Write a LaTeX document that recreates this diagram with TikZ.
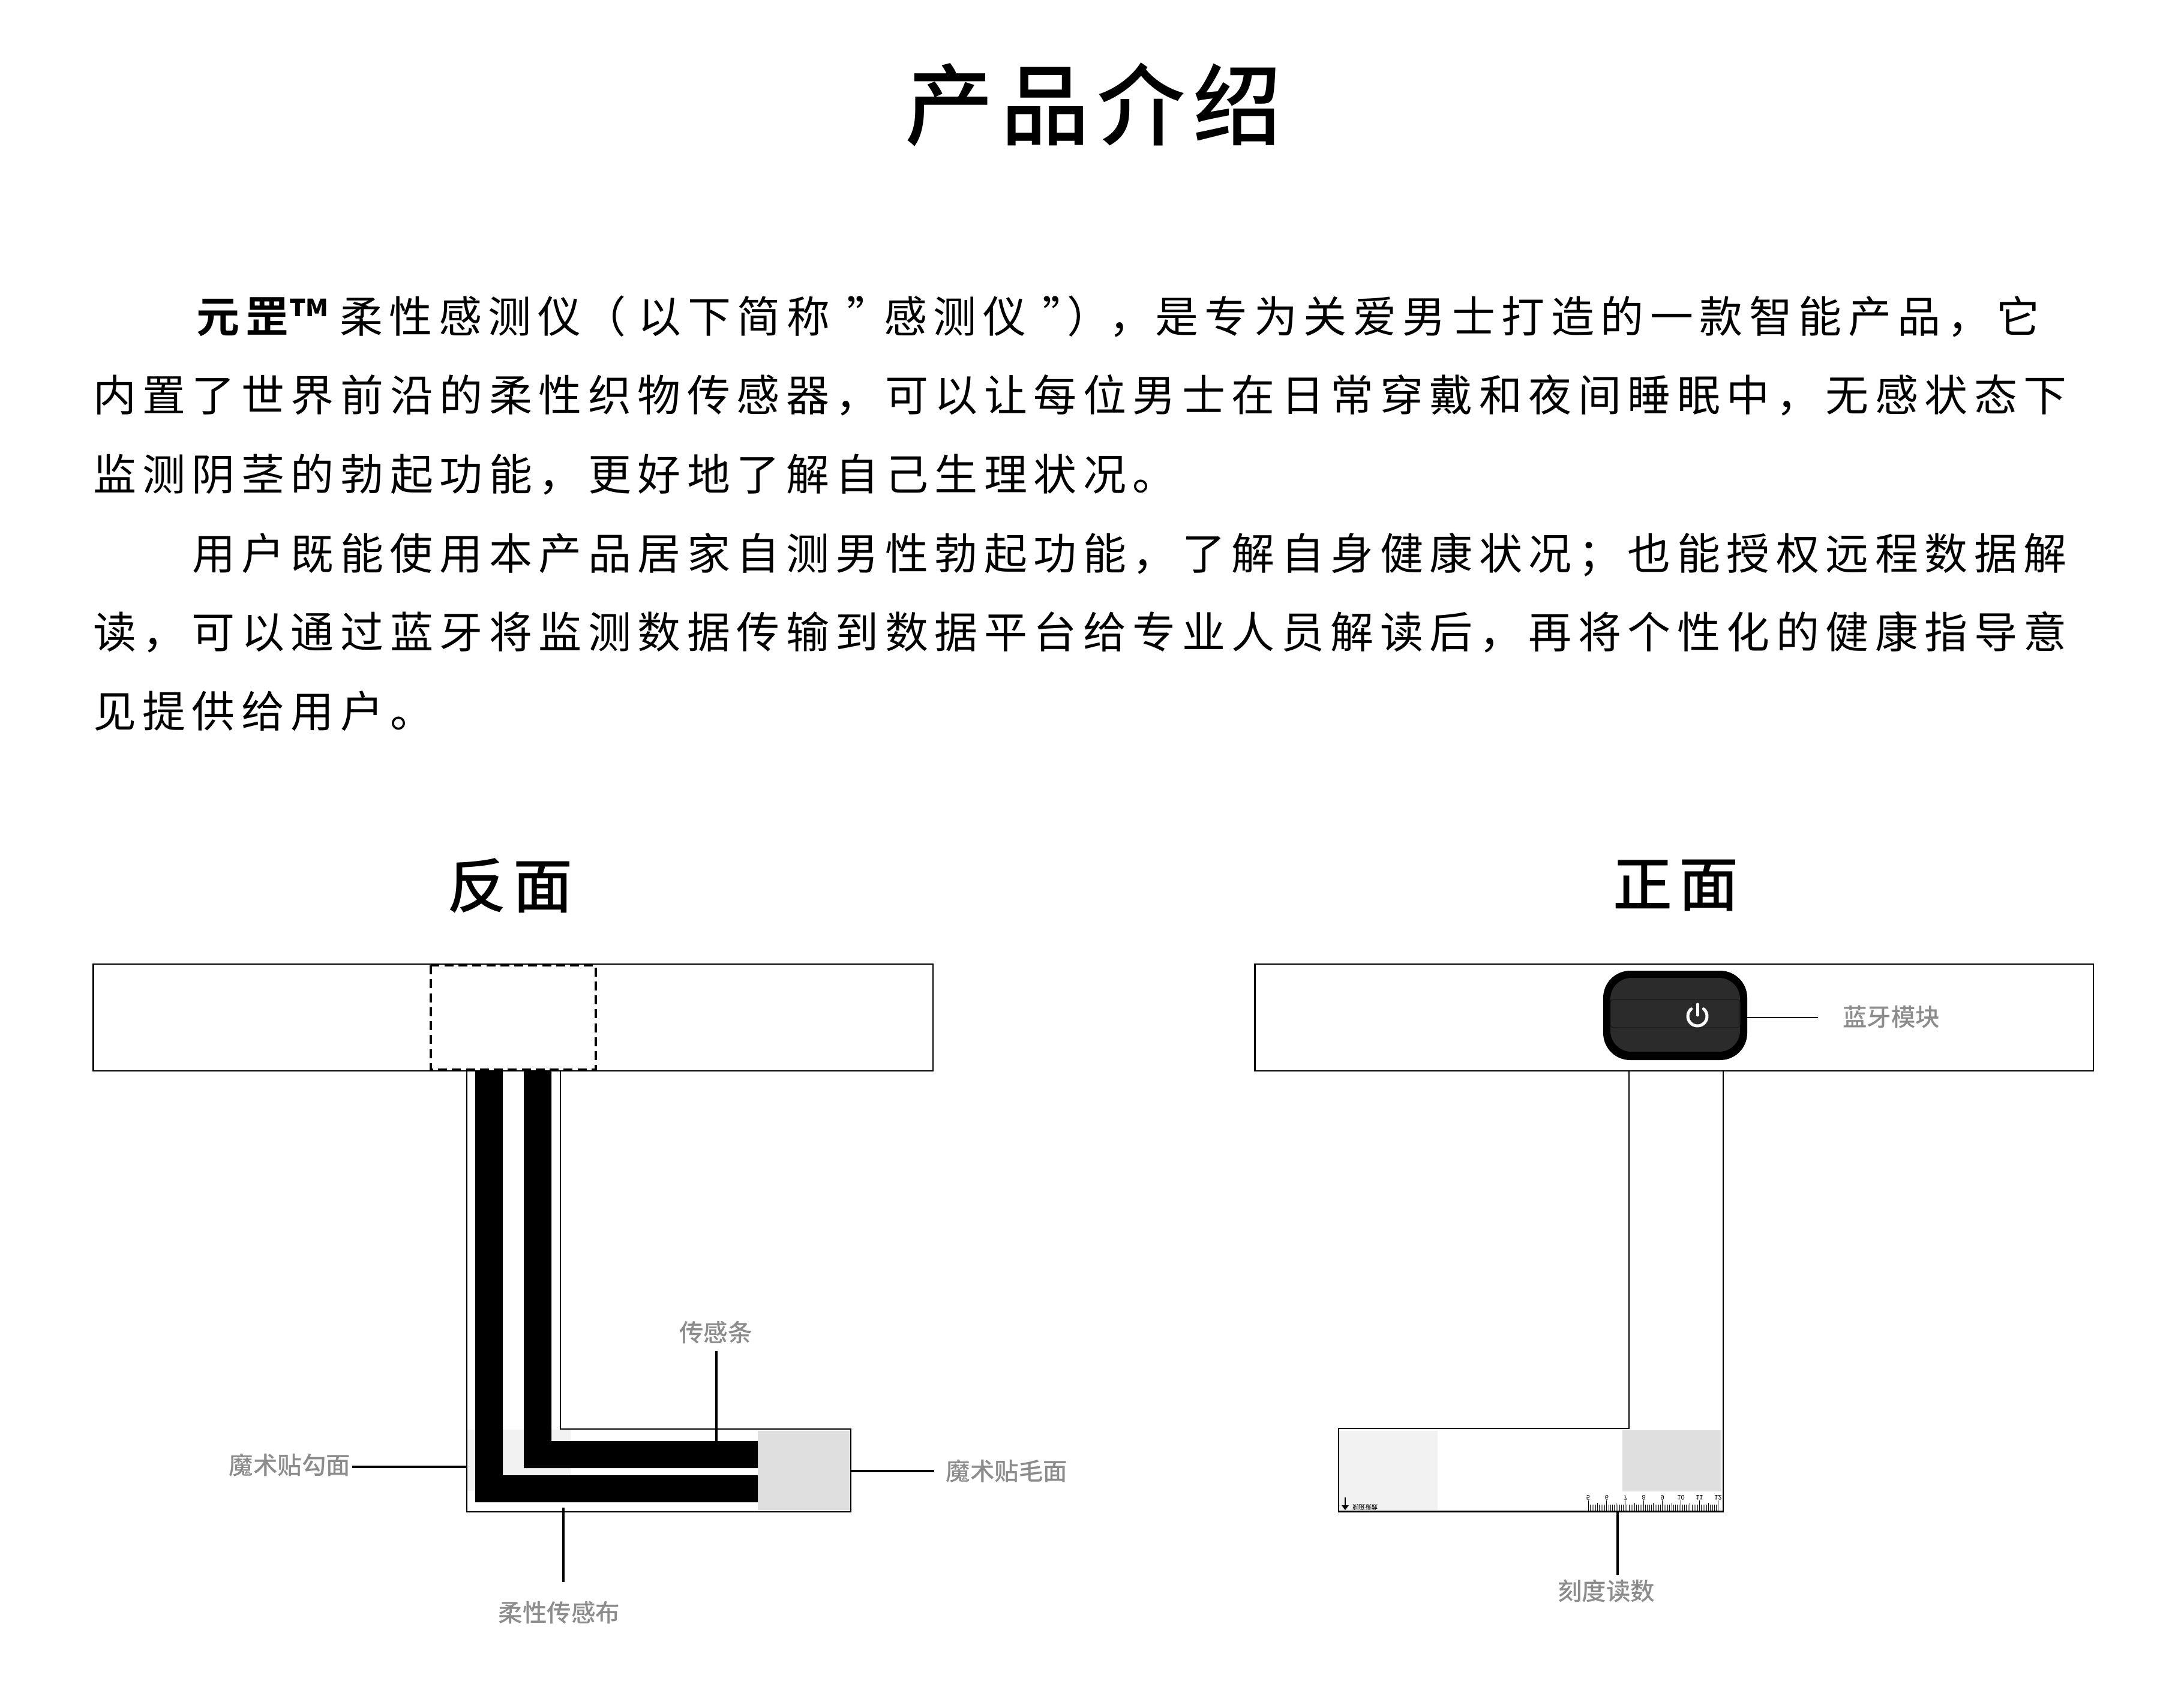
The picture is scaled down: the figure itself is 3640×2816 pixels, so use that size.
\documentclass[tikz,border=0pt]{standalone}
\usepackage{fontspec}
\setmainfont{Noto Sans CJK SC}
\newfontfamily\bodyfont{Noto Sans CJK SC}[LetterSpace=14.6,BoldFont={Noto Sans CJK SC Bold}]
\newfontfamily\titlefont{Noto Sans CJK SC Medium}[LetterSpace=8.5]
\newfontfamily\headfont{Noto Sans CJK SC Medium}[LetterSpace=11]
\newfontfamily\labelfont{Noto Sans CJK SC Medium}
\newfontfamily\flatfont{Liberation Sans}
\newcommand{\seg}[2]{\makebox[#1pt][l]{#2}}
\definecolor{lightpatch}{HTML}{F2F2F2}
\definecolor{darkpatch}{HTML}{DFDFDF}
\definecolor{labelgray}{HTML}{8C8C8C}
\definecolor{modulefill}{HTML}{2B2B2B}
\definecolor{moduleband}{HTML}{1A1A1A}
\tikzset{
  outline/.style={draw=black,line width=0.55pt},
  leaderthick/.style={draw=black,line width=0.9pt},
  leaderthin/.style={draw=black,line width=0.5pt},
  bodyline/.style={anchor=base west,inner sep=0pt,font=\bodyfont\fontsize{14.4pt}{14.4pt}\selectfont},
  heading/.style={inner sep=0pt,font=\headfont\fontsize{19.8pt}{19.8pt}\selectfont},
  partlabel/.style={inner sep=0pt,text=labelgray,font=\labelfont\fontsize{8.1pt}{8.1pt}\selectfont},
  ruletick/.style={draw=black,line width=0.2pt},
  flipped/.style={inner sep=0pt,yscale=-1,transform shape},
}
\begin{document}
\begin{tikzpicture}[x=0.2pt,y=-0.2pt]
\useasboundingbox[fill=white] (0,0) rectangle (3640,2816);
% ---- title and body
\node[inner sep=0pt,font=\titlefont\fontsize{29.5pt}{29.5pt}\selectfont] (title) at (1822,174) {产品介绍};
\node[bodyline] (l1) at (326,554) {\seg{47.8}{\textbf{元罡\kern0.4pt\raisebox{-1.5pt}{\fontsize{16.5pt}{16.5pt}\selectfont ™}}}\seg{81}{柔性感测仪}\seg{18.6}{（}\seg{69.4}{以下简称}\seg{12.4}{”}\seg{53}{感测仪}\seg{8}{”}\seg{14}{）}\seg{15.4}{，}是专为关爱男士打造的一款智能产品，它};
\node[bodyline] (l2) at (154,685) {内置了世界前沿的柔性织物传感器，可以让每位男士在日常穿戴和夜间睡眠中，无感状态下};
\node[bodyline] (l3) at (154,817) {监测阴茎的勃起功能，更好地了解自己生理状况。};
\node[bodyline] (l4) at (319,949) {用户既能使用本产品居家自测男性勃起功能，了解自身健康状况；也能授权远程数据解};
\node[bodyline] (l5) at (154,1080) {读，可以通过蓝牙将监测数据传输到数据平台给专业人员解读后，再将个性化的健康指导意};
\node[bodyline] (l6) at (154,1212) {见提供给用户。};
\node[heading] (backhead) at (850,1476) {反面};
\node[heading] (fronthead) at (2793,1476) {正面};
% ---- back side
\fill[lightpatch] (778,2383) rectangle (951,2485);
\fill[darkpatch] (1263,2385) rectangle (1416,2517);
\fill[black] (792,1785) -- (838,1785) -- (838,2459) -- (1263,2459) -- (1263,2504) -- (792,2504) -- cycle;
\fill[black] (873,1785) -- (919,1785) -- (919,2402) -- (1263,2402) -- (1263,2447) -- (873,2447) -- cycle;
\draw[outline] (155.5,1607) rectangle (1555,1785);
\draw[outline] (778,1785) -- (778,2520) -- (1418,2520) -- (1418,2382) -- (934,2382) -- (934,1785);
\draw[draw=black,line width=0.8pt,dash pattern=on 3pt off 1.65pt] (718,1609) rectangle (993,1783);
% ---- back labels
\node[partlabel] (sensorlab) at (1193,2221) {传感条};
\node[partlabel] (hooklab) at (483,2442) {魔术贴勾面};
\node[partlabel] (looplab) at (1678,2452) {魔术贴毛面};
\node[partlabel] (clothlab) at (932,2688) {柔性传感布};
\coordinate (sensorA) at (1194,2252);
\coordinate (sensorB) at (1194,2402);
\coordinate (hookA) at (587,2445);
\coordinate (hookB) at (778,2445);
\coordinate (loopA) at (1418,2452);
\coordinate (loopB) at (1557,2452);
\coordinate (clothA) at (939,2513);
\coordinate (clothB) at (939,2637);
\draw[leaderthick] (sensorA) -- (sensorB);
\draw[leaderthick] (hookA) -- (hookB);
\draw[leaderthick] (loopA) -- (loopB);
\draw[leaderthick] (clothA) -- (clothB);
% ---- front side
\fill[lightpatch] (2232,2385) rectangle (2396,2517);
\fill[darkpatch] (2704,2384) rectangle (2869,2486);
\draw[outline] (2091.5,1607) rectangle (3489,1785);
\draw[outline] (2715,1785) -- (2715,2381) -- (2231,2381) -- (2231,2519.5) -- (2872,2519.5) -- (2872,1785);
% module
\fill[black,rounded corners=9pt] (2672,1618) rectangle (2912,1767);
\fill[modulefill,rounded corners=7pt] (2684,1630) rectangle (2900,1753);
\draw[moduleband,line width=0.25pt,rounded corners=1pt] (2684,1666) rectangle (2900,1713);
\draw[white,line width=1pt,line cap=round] (2839.3,1681.7) arc[start angle=-50,end angle=230,radius=16];
\draw[white,line width=1pt,line cap=round] (2829,1674) -- (2829,1692);
\coordinate (btA) at (2912,1696);
\coordinate (btB) at (3030,1696);
\draw[leaderthin] (btA) -- (btB);
\node[partlabel] (btlab) at (3152,1695) {蓝牙模块};
% ruler
\foreach \i in {0,...,70}{
  \pgfmathsetmacro{\tx}{2647+\i*3.09}
  \pgfmathtruncatemacro{\tmain}{mod(\i,10)==0 ? 1 : 0}
  \pgfmathtruncatemacro{\tmid}{mod(\i,5)==0 ? 1 : 0}
  \pgfmathsetmacro{\ty}{\tmain==1 ? 2501 : (\tmid==1 ? 2505 : 2508)}
  \draw[ruletick] (\tx,2518) -- (\tx,\ty);
}
\foreach \n [count=\c from 0] in {5,6,7,8,9,10,11,12}{
  \pgfmathsetmacro{\tx}{2647+\c*30.9}
  \node[flipped,font=\flatfont\fontsize{2.2pt}{2.2pt}\selectfont] (num\n) at (\tx,2496) {\n};
}
\draw[black,line width=0.5pt] (2242,2496) -- (2242,2511);
\fill[black] (2236,2509) -- (2248,2509) -- (2242,2517) -- cycle;
\node[flipped,font=\labelfont\fontsize{2.1pt}{2.1pt}\selectfont] (flippedlab) at (2275,2512) {刻度读数};
\coordinate (readA) at (2696,2520);
\coordinate (readB) at (2696,2625);
\draw[leaderthick] (readA) -- (readB);
\node[partlabel] (readlab) at (2677,2652) {刻度读数};
\end{tikzpicture}
\end{document}
